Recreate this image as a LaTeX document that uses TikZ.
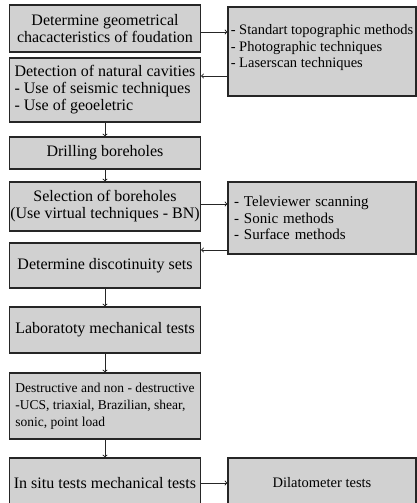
\documentclass[tikz,border=0pt]{standalone}
\usepackage{fontspec}
\setmainfont{Liberation Serif}
\usetikzlibrary{positioning}

\begin{document}
\begin{tikzpicture}[
  x=1pt, y=-1pt,
  every node/.style={draw=black!85, line width=1.1pt, fill=black!18, inner sep=2pt, font=\fontsize{16}{17}\selectfont},
  stepbox/.style={minimum width=191pt},
  sidebox/.style={minimum width=188pt, font=\fontsize{14.5}{16.7}\selectfont},
  flow/.style={draw=black!85, line width=0.9pt, ->}
]
\useasboundingbox (0,0) rectangle (417,503);
\clip (0,0) rectangle (417,503);

% main column
\node[stepbox, minimum height=47pt, align=center] (geom) at (105,28.5) {Determine geometrical\\chacacteristics of foudation};
\node[stepbox, minimum height=64pt, align=left] (cav) at (105,90) {Detection of natural cavities\\- Use of seismic techniques\\- Use of geoeletric};
\node[stepbox, minimum height=32pt] (drill) at (105,153) {Drilling boreholes};
\node[stepbox, minimum height=49pt, align=center, inner xsep=0pt] (select) at (105,206.5) {Selection of boreholes\\(Use virtual techniques - BN)};
\node[stepbox, minimum height=45pt] (disc) at (105,265.5) {Determine discotinuity sets};
\node[stepbox, minimum height=46pt] (lab) at (105,330) {Laboratoty mechanical tests};
\node[stepbox, minimum height=66pt, align=left, font=\fontsize{13.5}{17}\selectfont] (destr) at (105,406) {Destructive and non - destructive\\-UCS, triaxial, Brazilian, shear,\\sonic, point load};
\node[stepbox, minimum height=50pt] (insitu) at (105,483) {In situ tests mechanical tests};

% side boxes
\node[sidebox, minimum height=89pt, align=left, inner xsep=1pt, text depth=11pt] (topo) at (322,51.5) {- Standart topographic methods\\- Photographic techniques\\- Laserscan techniques};
\node[sidebox, minimum height=72pt, text width=176pt, inner xsep=6pt, align=left, font=\fontsize{15}{16.7}\selectfont] (scan) at (322,218) {- Televiewer scanning\\- Sonic methods\\- Surface methods};
\node[sidebox, minimum height=50pt, align=center] (dila) at (322,483) {Dilatometer tests};

% arrows
\draw[flow] (geom.east |- 0,32) -- (topo.west |- 0,32);
\draw[flow] (topo.west |- 0,76) -- (cav.east |- 0,76);
\draw[flow] (cav) -- (drill);
\draw[flow] (drill) -- (select);
\draw[flow] (select.east |- 0,204) -- (scan.west |- 0,204);
\draw[flow] (scan.west |- 0,250) -- (disc.east |- 0,250);
\draw[flow] (disc) -- (lab);
\draw[flow] (lab) -- (destr);
\draw[flow] (destr) -- (insitu);
\draw[flow] (insitu) -- (dila);
\end{tikzpicture}
\end{document}
